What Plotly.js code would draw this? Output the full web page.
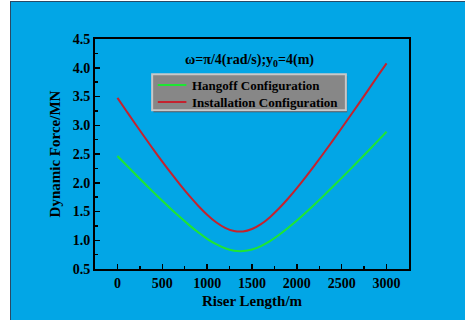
<!DOCTYPE html>
<html>
<head>
<meta charset="utf-8">
<script src="https://cdn.plot.ly/plotly-3.0.1.min.js"></script>
<style>
html,body{margin:0;padding:0;background:#ffffff;width:465px;height:320px;overflow:hidden;}
#plot{position:absolute;left:10px;top:1px;width:455px;height:319px;border-left:1px solid #2a4a66;border-top:1px solid #2a4a66;box-sizing:border-box;}
</style>
</head>
<body>
<div id="plot"></div>
<script>
const riserLength = [0,100,200,300,400,500,600,700,800,900,1000,1100,1200,1300,1400,1500,1600,1700,1800,1900,2000,2100,2200,2300,2400,2500,2600,2700,2800,2900,3000];
const hangoffForce = [2.466,2.306,2.148,1.991,1.837,1.686,1.539,1.398,1.263,1.138,1.025,0.931,0.860,0.819,0.812,0.840,0.899,0.985,1.091,1.212,1.343,1.482,1.627,1.776,1.929,2.085,2.242,2.402,2.562,2.724,2.887];
const installationForce = [3.475,3.248,3.022,2.800,2.581,2.369,2.163,1.964,1.776,1.601,1.445,1.313,1.216,1.160,1.153,1.195,1.280,1.402,1.552,1.722,1.907,2.103,2.307,2.517,2.733,2.952,3.174,3.398,3.624,3.852,4.075];
const seriesNames = ["Hangoff Configuration","Installation Configuration"];
const seriesColors = ["#1EE632","#C4222E"];
const xTickVals = [0,500,1000,1500,2000,2500,3000];
const yTickVals = [0.5,1.0,1.5,2.0,2.5,3.0,3.5,4.0,4.5];
const yTickText = ["0.5","1.0","1.5","2.0","2.5","3.0","3.5","4.0","4.5"];

const serif = "Liberation Serif, Times New Roman, serif";
const traces = [
  {x: riserLength, y: hangoffForce, name: seriesNames[0], mode: "lines", line: {color: seriesColors[0], width: 2, shape: "spline"}},
  {x: riserLength, y: installationForce, name: seriesNames[1], mode: "lines", line: {color: seriesColors[1], width: 2, shape: "spline"}}
];
const axisCommon = {
  showline: true, linecolor: "#000", linewidth: 2, mirror: true,
  ticks: "inside", ticklen: 5, tickwidth: 1.5, tickcolor: "#000",
  showgrid: false, zeroline: false,
  tickfont: {family: serif, size: 14, color: "#000", weight: "bold"}
};

// manual legend box (paper coordinates of the plot area)
const lg = {x0: 0.182, x1: 0.799, y0: 0.690, y1: 0.847, lx0: 0.200, lx1: 0.291, tx: 0.3035, rows: [0.800, 0.726]};
const shapes = [
  {type: "rect", xref: "paper", yref: "paper", x0: lg.x0 + 0.004, x1: lg.x1 + 0.004, y0: lg.y0 - 0.008, y1: lg.y1 - 0.008, fillcolor: "#4a5560", line: {width: 0}, layer: "above"},
  {type: "rect", xref: "paper", yref: "paper", x0: lg.x0, x1: lg.x1, y0: lg.y0, y1: lg.y1, fillcolor: "#878787", line: {color: "#c8c8c8", width: 2}, layer: "above"}
];
const annotations = [{
  xref: "paper", yref: "paper", x: 0.492, y: 0.905, xanchor: "center", yanchor: "middle",
  text: "ω=π/4(rad/s);y<sub>0</sub>=4(m)", showarrow: false,
  font: {family: serif, size: 14, color: "#000", weight: "bold"}
}];
seriesNames.forEach(function(name, i) {
  shapes.push({type: "line", xref: "paper", yref: "paper", x0: lg.lx0, x1: lg.lx1, y0: lg.rows[i], y1: lg.rows[i], line: {color: seriesColors[i], width: 2}, layer: "above"});
  annotations.push({xref: "paper", yref: "paper", x: lg.tx, y: lg.rows[i], xanchor: "left", yanchor: "middle",
    text: name, showarrow: false, font: {family: serif, size: 13, color: "#000", weight: "bold"}});
});

const layout = {
  width: 455, height: 319,
  paper_bgcolor: "#02A6E6", plot_bgcolor: "#02A6E6",
  margin: {l: 84, r: 57, t: 37, b: 52},
  showlegend: false,
  xaxis: Object.assign({}, axisCommon, {
    range: [-250, 3250], tickvals: xTickVals,
    minor: {ticks: "inside", dtick: 250, ticklen: 3, tickwidth: 1.5, tickcolor: "#000"},
    title: {text: "Riser Length/m", font: {family: serif, size: 15, color: "#000", weight: "bold"}, standoff: 6}
  }),
  yaxis: Object.assign({}, axisCommon, {
    range: [0.5, 4.5], tickvals: yTickVals, ticktext: yTickText,
    minor: {ticks: "inside", dtick: 0.25, ticklen: 3, tickwidth: 1.5, tickcolor: "#000"},
    title: {text: "Dynamic Force/MN", font: {family: serif, size: 15, color: "#000", weight: "bold"}, standoff: 8}
  }),
  shapes: shapes,
  annotations: annotations
};
Plotly.newPlot("plot", traces, layout, {displayModeBar: false, staticPlot: true});
</script>
</body>
</html>
